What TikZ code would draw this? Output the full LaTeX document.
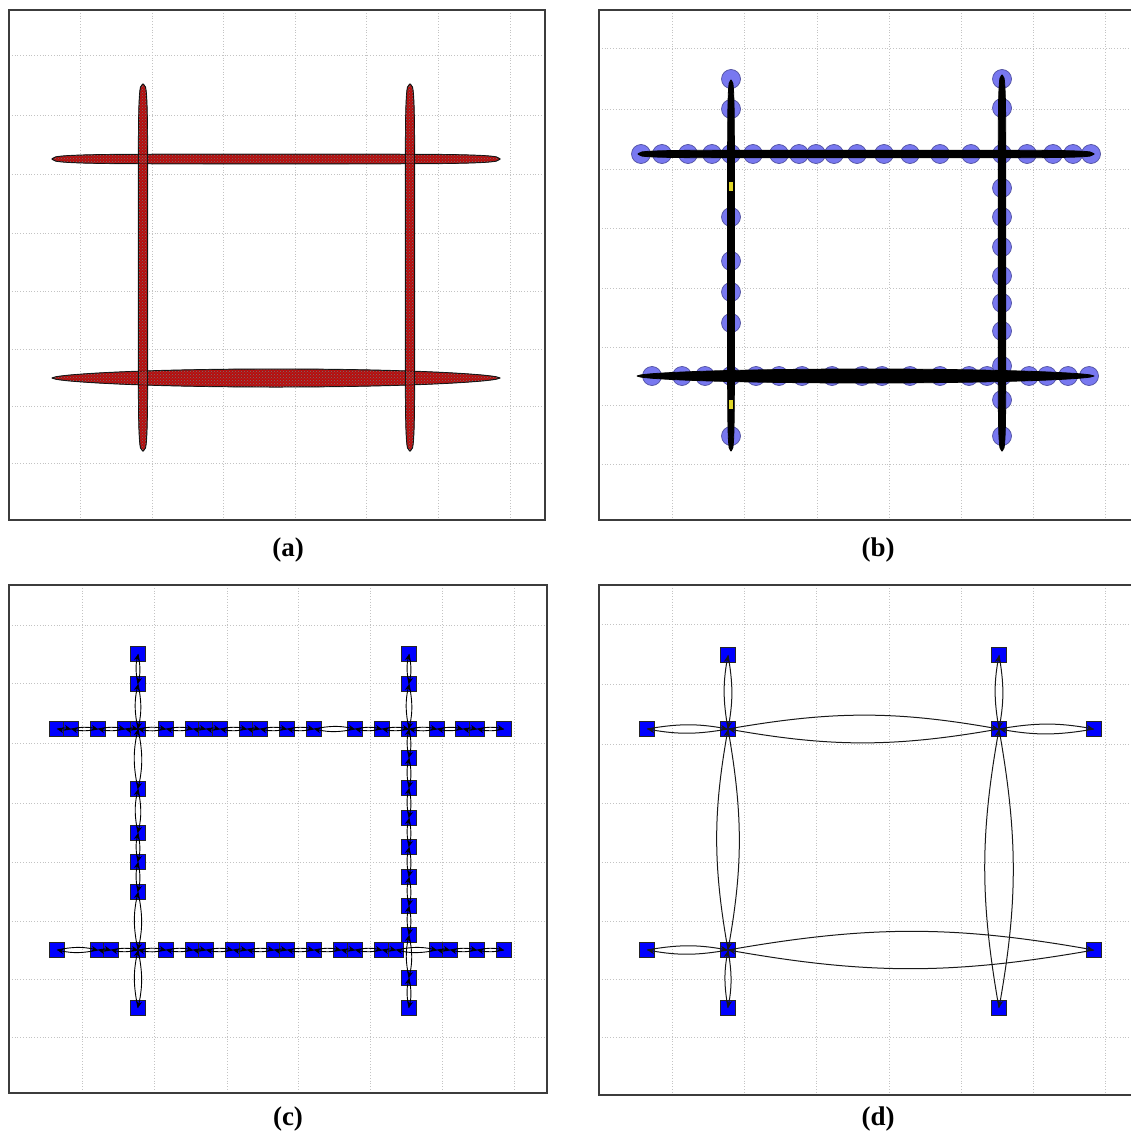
\documentclass[tikz,border=0pt]{standalone}
\usepackage{fontspec}
\setmainfont{Liberation Serif}
\usetikzlibrary{arrows.meta,patterns}

\definecolor{gridc}{RGB}{195,195,195}
\definecolor{framec}{RGB}{60,60,60}
\definecolor{redpt}{RGB}{185,12,12}
\definecolor{circf}{RGB}{120,120,240}
\definecolor{circd}{RGB}{80,80,160}
\definecolor{nodeb}{RGB}{0,0,255}
\definecolor{yel}{RGB}{225,215,40}

\tikzset{
  declare function={prof(\u,\p,\q)=pow(max(1-pow(max(abs(\u),0.001),\p),0.0001),\q);},
  gridline/.style={gridc, dotted, line width=0.8pt},
  framebox/.style={framec, line width=1.2pt},
  sq/.style={draw=black!85, fill=nodeb, minimum size=15pt, inner sep=0pt, line width=0.7pt},
  cedge/.style={line width=0.9pt, black, -{Stealth[length=6pt,width=5.5pt]}, shorten >=0.5pt},
  dedge/.style={line width=1pt, black!90, -{Stealth[length=7pt,width=6pt]}, shorten >=0.5pt},
  blob/.style={draw=circd, fill=circf, line width=0.7pt},
  redband/.style={fill=redpt, draw=black!80, line width=1pt, line join=round},
  dotsband/.style={pattern=crosshatch dots, pattern color=black!55},
  blackband/.style={fill=black, draw=black, line width=0.8pt, line join=round},
  caption/.style={font=\fontsize{27}{29}\selectfont\bfseries},
}

% horizontal band: x1 x2 y h p q style
\newcommand\bandH[7]{%
  \filldraw[#7] plot[domain=#1:#2, samples=120, variable=\t]
     (\t,{#3-#4*prof((\t-(#1+#2)/2)/((#2-#1)/2),#5,#6)})
   -- plot[domain=#2:#1, samples=120, variable=\t]
     (\t,{#3+#4*prof((\t-(#1+#2)/2)/((#2-#1)/2),#5,#6)}) -- cycle;}
% vertical band: x y1 y2 h p q style
\newcommand\bandV[7]{%
  \filldraw[#7] plot[domain=#2:#3, samples=120, variable=\t]
     ({#1-#4*prof((\t-(#2+#3)/2)/((#3-#2)/2),#5,#6)},\t)
   -- plot[domain=#3:#2, samples=120, variable=\t]
     ({#1+#4*prof((\t-(#2+#3)/2)/((#3-#2)/2),#5,#6)},\t) -- cycle;}

\begin{document}
\begin{tikzpicture}[x=1pt,y=-1pt]
\useasboundingbox (0,0) rectangle (1131,1132);
\fill[white] (0,0) rectangle (1131,1132);

% ================= (a) =================
\foreach \x in {80,152,223,295,366,438,510} \draw[gridline] (\x,10) -- (\x,520);
\foreach \y in {55,115,174,233,291,349,406,463} \draw[gridline] (9,\y) -- (545,\y);
\draw[framebox] (9,10) rectangle (545,520);
\bandH{52}{500}{159}{4.8}{6}{0.35}{redband}
\bandH{52}{500}{378}{9}{2}{0.6}{redband}
\bandV{143}{84}{451}{4.6}{8}{0.3}{redband}
\bandV{410}{84}{451}{4.6}{8}{0.3}{redband}
\bandH{52}{500}{159}{4.8}{6}{0.35}{dotsband}
\bandH{52}{500}{378}{9}{2}{0.6}{dotsband}
\bandV{143}{84}{451}{4.6}{8}{0.3}{dotsband}
\bandV{410}{84}{451}{4.6}{8}{0.3}{dotsband}
\node[caption] (capa) at (288,550) {(a)};

% ================= (b) =================
\foreach \x in {672,744,817,889,961,1033,1105} \draw[gridline] (\x,10) -- (\x,520);
\foreach \y in {48,109,169,228,288,347,405,464} \draw[gridline] (599,\y) -- (1131,\y);
\draw[framebox] (1131,10) -- (599,10) -- (599,520) -- (1131,520);
\foreach \x in {641,662,688,712,731,753,779,799,816,834,857,884,910,940,971,1002,1027,1053,1073,1091}
  \filldraw[blob] (\x,154) circle (9.5);
\foreach \x in {652,682,705,731,756,779,802,832,862,882,910,940,969,987,1002,1029,1047,1068,1089}
  \filldraw[blob] (\x,376) circle (9.5);
\foreach \y in {79,109,217,261,292,323,436}
  \filldraw[blob] (731,\y) circle (9.5);
\foreach \y in {79,108,188,217,247,276,303,331,366,400,436}
  \filldraw[blob] (1002,\y) circle (9.5);
\bandH{638}{1094}{154}{3.8}{8}{0.3}{blackband}
\bandH{637}{1094}{376}{7}{2}{0.55}{blackband}
\bandV{731}{80}{451}{3.4}{8}{0.3}{blackband}
\bandV{1002}{75}{451}{3.8}{8}{0.3}{blackband}
\fill[yel] (729,182) rectangle (733,191);
\fill[yel] (729,400) rectangle (733,409);
\node[caption] (capb) at (878,550) {(b)};

% ================= (c) =================
\foreach \x in {82,154,227,298,370,442,514} \draw[gridline] (\x,585) -- (\x,1093);
\foreach \y in {625,683,743,803,862,921,979,1037} \draw[gridline] (9,\y) -- (547,\y);
\draw[framebox] (9,585) rectangle (547,1093);
% top row
\foreach \x [count=\i] in {57,71,98,125,138,166,193,206,220,247,260,287,314,355,382,409,437,463,477,504}
  \node[sq] (ct\i) at (\x,729) {};
% bottom row
\foreach \x [count=\i] in {57,98,111,138,166,193,206,233,247,274,287,314,341,355,382,396,437,450,477,504}
  \node[sq] (cb\i) at (\x,950) {};
% left column
\foreach \y [count=\i] in {654,684,789,833,862,892,1008}
  \node[sq] (cl\i) at (138,\y) {};
% right column
\foreach \y [count=\i] in {654,684,758,788,818,847,877,906,935,978,1008}
  \node[sq] (cr\i) at (409,\y) {};
% edges
\foreach \i [evaluate=\i as \j using int(\i+1)] in {1,...,19}{
  \draw[cedge] (ct\i.center) to[bend left=12] (ct\j.center);
  \draw[cedge] (ct\j.center) to[bend left=12] (ct\i.center);
  \draw[cedge] (cb\i.center) to[bend left=12] (cb\j.center);
  \draw[cedge] (cb\j.center) to[bend left=12] (cb\i.center);
}
\foreach \a/\b in {cl1/cl2,cl2/ct5,ct5/cl3,cl3/cl4,cl4/cl5,cl5/cl6,cl6/cb4,cb4/cl7,
                   cr1/cr2,cr2/ct16,ct16/cr3,cr3/cr4,cr4/cr5,cr5/cr6,cr6/cr7,cr7/cr8,cr8/cr9,cr9/cr10,cr10/cr11}{
  \draw[cedge] (\a.center) to[bend left=12] (\b.center);
  \draw[cedge] (\b.center) to[bend left=12] (\a.center);
}
\node[caption] (capc) at (288,1119) {(c)};

% ================= (d) =================
\foreach \x in {672,744,816,889,961,1033,1105} \draw[gridline] (\x,585) -- (\x,1095);
\foreach \y in {624,684,744,803,862,921,979,1037} \draw[gridline] (599,\y) -- (1131,\y);
\draw[framebox] (1131,585) -- (599,585) -- (599,1095) -- (1131,1095);
\node[sq] (d1) at (728,655) {};
\node[sq] (d2) at (728,729) {};
\node[sq] (d3) at (647,729) {};
\node[sq] (d4) at (999,655) {};
\node[sq] (d5) at (999,729) {};
\node[sq] (d6) at (1094,729) {};
\node[sq] (d7) at (647,950) {};
\node[sq] (d8) at (728,950) {};
\node[sq] (d9) at (1094,950) {};
\node[sq] (d10) at (728,1008) {};
\node[sq] (d11) at (999,1008) {};
\foreach \a/\b in {d3/d2,d1/d2,d2/d5,d4/d5,d5/d6,d2/d8,d5/d11,d7/d8,d8/d9,d8/d10}{
  \draw[dedge] (\a.center) to[bend left=10] (\b.center);
  \draw[dedge] (\b.center) to[bend left=10] (\a.center);
}
\node[caption] (capd) at (878,1119) {(d)};
\end{tikzpicture}
\end{document}
